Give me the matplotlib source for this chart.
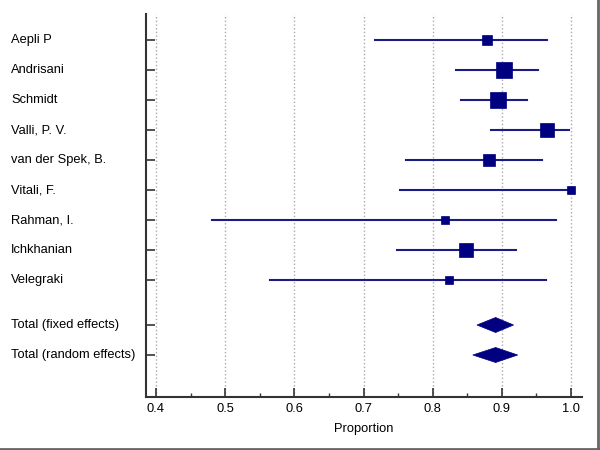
import matplotlib
matplotlib.use('Agg')
import matplotlib.pyplot as plt
import matplotlib.transforms as mtransforms
from matplotlib.lines import Line2D
from matplotlib.patches import Polygon
import numpy as np

plt.rcParams['font.family'] = ['Liberation Sans', 'DejaVu Sans']

# Study-level proportions with 95% CI and weights (%).
studies = ['Aepli P', 'Andrisani', 'Schmidt', 'Valli, P. V.', 'van der Spek, B.',
           'Vitali, F.', 'Rahman, I.', 'Ichkhanian', 'Velegraki']
prop = [0.878, 0.903, 0.895, 0.966, 0.881, 1.000, 0.818, 0.848, 0.823]
ci_low = [0.716, 0.834, 0.841, 0.884, 0.762, 0.753, 0.481, 0.749, 0.565]
ci_high = [0.966, 0.952, 0.936, 0.997, 0.958, 1.000, 0.978, 0.920, 0.964]
weights = [7.8, 17.5, 22.5, 13.2, 11.2, 3.8, 3.8, 15.3, 5.0]

# Pooled estimates
totals = ['Total (fixed effects)', 'Total (random effects)']
tot_prop = [0.891, 0.891]
tot_low = [0.864, 0.858]
tot_high = [0.917, 0.923]

xticks = [0.4, 0.5, 0.6, 0.7, 0.8, 0.9, 1.0]

navy = '#000080'

fig = plt.figure(figsize=(6, 4.5), dpi=100)
ax = fig.add_axes([146 / 600, 1 - 397 / 450, (582 - 146) / 600, (397 - 14) / 450])

y_study = np.arange(len(studies))
y_tot = len(studies) + 0.5 + np.arange(len(totals))

# confidence intervals + weighted squares
for y, p, lo, hi, w in zip(y_study, prop, ci_low, ci_high, weights):
    ax.plot([lo, hi], [y, y], color='#1c1c85', lw=1.5, zorder=3)
    side_px = 0.8 + 3.4 * np.sqrt(w)
    ax.plot(p, y, marker='s', color=navy, markersize=side_px * 72 / 100,
            markeredgewidth=0.5, markeredgecolor=navy, zorder=4)

# pooled diamonds
for y, p, lo, hi in zip(y_tot, tot_prop, tot_low, tot_high):
    ax.add_patch(Polygon([[lo, y], [p, y - 0.25], [hi, y], [p, y + 0.25]],
                         closed=True, facecolor=navy, edgecolor=navy, lw=0.5, zorder=4))

ax.set_xlim(0.4 - 10 / 692, 1.0 + 11 / 692)
ax.set_ylim(11.9, -0.867)

ax.set_xticks(xticks)
ax.set_xticklabels([f'{t:.1f}' for t in xticks], fontsize=9.3)
ax.set_xticks(np.arange(0.45, 1.0, 0.1), minor=True)
ax.tick_params(axis='x', which='major', direction='in', length=6.5, width=1.2,
               color='#333333', pad=4)
ax.tick_params(axis='x', which='minor', direction='in', length=3, width=1.0,
               color='#333333')

yall = list(y_study) + list(y_tot)
ax.set_yticks(yall)
ax.set_yticklabels([])
ax.tick_params(axis='y', which='major', direction='in', length=6.5, width=1.2,
               color='#333333')

trans = mtransforms.blended_transform_factory(fig.transFigure, ax.transData)
for y, lab in zip(yall, studies + totals):
    ax.text(11 / 600, y, lab, transform=trans, ha='left', va='center', fontsize=9.3)

ax.grid(axis='x', which='major', linestyle=':', color='#aaaaaa', lw=1.0, zorder=0)
ax.set_axisbelow(True)

for side in ['top', 'right']:
    ax.spines[side].set_visible(False)
for side in ['left', 'bottom']:
    ax.spines[side].set_color('#333333')
    ax.spines[side].set_linewidth(1.5)

ax.set_xlabel('Proportion', fontsize=9.3, labelpad=6)

# thin gray frame on the right and bottom edges
fig.add_artist(Line2D([0, 1], [0.003, 0.003], color='#666666', lw=2, transform=fig.transFigure))
fig.add_artist(Line2D([0.997, 0.997], [0, 1], color='#666666', lw=2, transform=fig.transFigure))

fig.savefig('out.png', dpi=100)
